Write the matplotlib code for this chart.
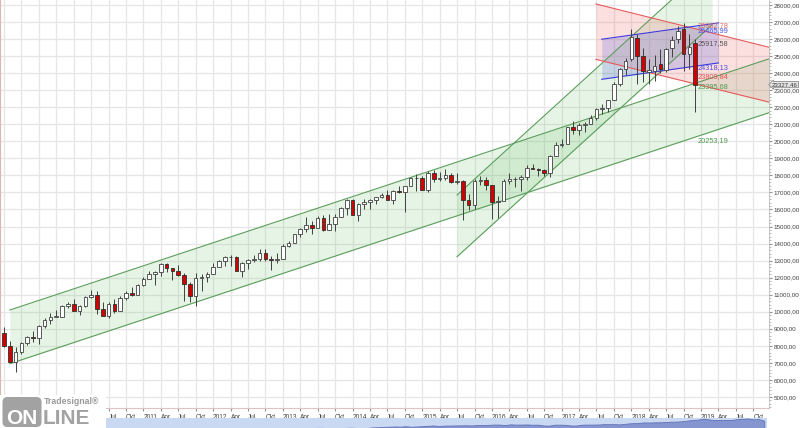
import numpy as np
import matplotlib.pyplot as plt
import matplotlib.transforms as mtransforms
from matplotlib.patches import FancyBboxPatch

plt.rcParams['font.family'] = ['Liberation Sans', 'DejaVu Sans']

# Monthly OHLC, Jan 2009 .. Dec 2018 (one row per year)
opens = [
    8772, 8001, 7063, 7609, 8168, 8500, 8447, 9172, 9496, 9712, 9713, 10345,
    10428, 10067, 10325, 10857, 11009, 10137, 9774, 10466, 10015, 10788, 11118, 11006,
    11578, 11892, 12226, 12320, 12811, 12570, 12414, 12143, 11614, 10913, 11955, 12046,
    12218, 12633, 12952, 13212, 13214, 12393, 12880, 13009, 13091, 13437, 13096, 13026,
    13104, 13861, 14054, 14579, 14840, 15116, 14910, 15500, 14810, 15130, 15546, 16086,
    16577, 15699, 16322, 16458, 16581, 16717, 16827, 16563, 17098, 17043, 17391, 17828,
    17823, 17165, 18133, 17776, 17841, 18011, 17620, 17690, 16528, 16285, 17664, 17720,
    17425, 16466, 16517, 17685, 17774, 17787, 17930, 18432, 18401, 18308, 18142, 19124,
    19763, 19864, 20812, 20663, 20941, 21009, 21350, 21891, 21948, 22405, 23377, 24272,
    24809, 26083, 25024, 24076, 24117, 24542, 24161, 25461, 25998, 26598, 25115, 25780,
]
highs = [
    9088, 8280, 7925, 8221, 8588, 8878, 9244, 9621, 9918, 10120, 10406, 10580,
    10730, 10410, 10908, 11258, 11205, 10595, 10580, 10720, 10948, 11245, 11451, 11625,
    12020, 12391, 12419, 12876, 12876, 12570, 12753, 12284, 11717, 12285, 12188, 12360,
    12841, 13055, 13290, 13338, 13280, 12898, 13107, 13331, 13653, 13662, 13290, 13430,
    13970, 14150, 14586, 14888, 15542, 15341, 15635, 15659, 15709, 15721, 16174, 16589,
    16588, 16398, 16588, 16632, 16735, 16978, 17151, 17153, 17350, 17395, 17894, 18103,
    17951, 18244, 18289, 18175, 18351, 18138, 18137, 17719, 16933, 17799, 17978, 17901,
    17425, 16795, 17790, 18168, 17935, 18016, 18622, 18668, 18450, 18399, 19226, 19988,
    20126, 20852, 21169, 21070, 21113, 21535, 21929, 22180, 22420, 23485, 24328, 24876,
    26617, 26307, 25450, 24858, 25086, 25402, 25462, 26167, 26770, 26951, 26278, 25980,
]
lows = [
    7909, 7050, 6470, 7490, 8075, 8221, 8088, 9070, 9253, 9677, 9679, 10236,
    10026, 9835, 10300, 10797, 9870, 9757, 9614, 9936, 10015, 10712, 10930, 11006,
    11535, 11892, 11555, 12093, 12311, 11862, 12093, 10605, 10597, 10362, 11231, 11735,
    12218, 12633, 12709, 12711, 12391, 12035, 12492, 12899, 12977, 12992, 12471, 12883,
    13104, 13784, 14054, 14397, 14685, 14551, 14910, 14760, 14777, 14720, 15546, 15703,
    15699, 15341, 16015, 16015, 16334, 16674, 16563, 16333, 16945, 15855, 17391, 17068,
    17136, 17037, 17585, 17664, 17736, 17547, 17466, 15370, 15942, 16013, 17432, 17128,
    15451, 15503, 16500, 17484, 17331, 17063, 17713, 18355, 17992, 17959, 17884, 19124,
    19678, 19832, 20413, 20380, 20554, 20996, 21279, 21600, 21709, 22405, 23242, 23921,
    24741, 23360, 23509, 23345, 23531, 23997, 24078, 24965, 25745, 24123, 24268, 21713,
]
closes = [
    8001, 7063, 7609, 8168, 8500, 8447, 9172, 9496, 9712, 9713, 10345, 10428,
    10067, 10325, 10857, 11009, 10137, 9774, 10466, 10015, 10788, 11118, 11006, 11578,
    11892, 12226, 12320, 12811, 12570, 12414, 12143, 11614, 10913, 11955, 12046, 12218,
    12633, 12952, 13212, 13214, 12393, 12880, 13009, 13091, 13437, 13096, 13026, 13104,
    13861, 14054, 14579, 14840, 15116, 14910, 15500, 14810, 15130, 15546, 16086, 16577,
    15699, 16322, 16458, 16581, 16717, 16827, 16563, 17098, 17043, 17391, 17828, 17823,
    17165, 18133, 17776, 17841, 18011, 17620, 17690, 16528, 16285, 17664, 17720, 17425,
    16466, 16517, 17685, 17774, 17787, 17930, 18432, 18401, 18308, 18142, 19124, 19763,
    19864, 20812, 20663, 20941, 21009, 21350, 21891, 21948, 22405, 23377, 24272, 24719,
    26149, 25029, 24103, 24163, 24416, 24271, 25415, 25965, 26458, 25116, 25538, 23327,
]
last_price = 23327.46

# Axis labels
years = [str(y) for y in range(2009, 2020)]
quarter_names = ['Apr', 'Jul', 'Okt']
first_labelled_tick = 18      # Jul 2010, earlier ones sit under the logo
y_ticks = list(range(5000, 29000, 1000))

# Drawn trend channels (month index, price at start / end)
chan_a_x = [1.0, 131.7]
chan_a_upper = [10100, 24840]
chan_a_lower = [6950, 21680]

chan_b_x = [78.0, 121.9]
chan_b_upper = [16850, 30460]
chan_b_lower = [13229, 26838]

chan_red_x = [101.9, 131.7]
chan_red_upper = [28060, 25520]
chan_red_lower = [24810, 22300]

chan_blue_x = [102.9, 123.0]
chan_blue_upper = [25990, 26950]
chan_blue_lower = [23640, 24600]

# Value tags next to the last bar
tag_texts = ['26802,78', '26465,99', '25917,58', '24318,13', '23809,84', '23395,68', '20253,19']
tag_prices = [26768, 26474, 25711, 24332, 23775, 23220, 20019]
tag_colors = ['#e06a6a', '#5050e0', '#555555', '#5050e0', '#e05050', '#4f9a4f', '#4f9a4f']

idx = np.arange(len(closes))
o = np.array(opens, float)
c = np.array(closes, float)
h = np.array(highs, float)
l = np.array(lows, float)

fig = plt.figure(figsize=(8, 4.28), dpi=100)
ax = fig.add_axes([0, 20 / 428, 769 / 800, 408 / 428])
ax.set_xlim(-0.69, 131.7)
ax.set_ylim(4350, 28293)

# grid + ticks
q_ticks = np.arange(0, 132, 3)
q_labels = []
for t in q_ticks:
    m = t % 12
    if t < first_labelled_tick:
        q_labels.append('')
    else:
        q_labels.append(years[t // 12] if m == 0 else quarter_names[m // 3 - 1])
ax.set_xticks(q_ticks)
ax.set_xticklabels(q_labels)
for lbl in ax.get_xticklabels():
    lbl.set_ha('left')
ax.set_yticks(y_ticks)
ax.set_yticklabels([f'{v},00' for v in y_ticks])
ax.set_yticks(np.arange(4400, 28300, 200), minor=True)
ax.yaxis.tick_right()
ax.tick_params(axis='x', length=2.5, pad=1.5, labelsize=4.7, colors='#909090', labelcolor='#404040')
ax.tick_params(axis='y', which='major', length=2, pad=1.2, labelsize=4.5, colors='#909090', labelcolor='#404040')
ax.tick_params(axis='y', which='minor', length=1.3, colors='#a0a0a0', width=0.5)
ax.grid(True, which='major', color='#e6e6e6', lw=0.9)
ax.set_axisbelow(True)
ax.spines['top'].set_visible(False)
ax.spines['left'].set_color('#dcb6ae')
ax.spines['left'].set_linewidth(1.5)
ax.spines['bottom'].set_color('#dcc4c4')
ax.spines['bottom'].set_linewidth(0.8)
ax.spines['right'].set_color('#b0b0b0')
ax.spines['right'].set_linewidth(0.5)


def channel(xs, up, lo, face, alpha, edge):
    ax.fill_between(xs, lo, up, color=face, alpha=alpha, lw=0, zorder=1)
    ax.plot(xs, up, color=edge, lw=0.8, zorder=2)
    ax.plot(xs, lo, color=edge, lw=0.8, zorder=2)


channel(chan_a_x, chan_a_upper, chan_a_lower, '#5cb85c', 0.15, '#5a9e5a')
channel(chan_b_x, chan_b_upper, chan_b_lower, '#5cb85c', 0.15, '#5a9e5a')
channel(chan_red_x, chan_red_upper, chan_red_lower, '#f06060', 0.2, '#e85a5a')
channel(chan_blue_x, chan_blue_upper, chan_blue_lower, '#5060e0', 0.22, '#3a3ae0')

# candles
up = c >= o
ax.vlines(idx, l, h, color='#404040', lw=0.7, zorder=3)
body_lo = np.minimum(o, c)
body_h = np.maximum(np.abs(c - o), 25)
ax.bar(idx[up], body_h[up], bottom=body_lo[up], width=0.62,
       color='white', edgecolor='#404040', lw=0.6, zorder=4)
ax.bar(idx[~up], body_h[~up], bottom=body_lo[~up], width=0.62,
       color='#d00000', edgecolor='#303030', lw=0.6, zorder=4)

for txt, p, col in zip(tag_texts, tag_prices, tag_colors):
    ax.text(119.35, p, txt, color=col, fontsize=5.3, ha='left', va='center', zorder=6)

trans = mtransforms.blended_transform_factory(ax.transAxes, ax.transData)
ax.text(1.004, last_price, f'{last_price:.2f}'.replace('.', ','), transform=trans,
        ha='left', va='center', fontsize=4.4, color='#303030', clip_on=False, zorder=10,
        bbox=dict(boxstyle='larrow,pad=0.1', fc='#e6e6e6', ec='#8a8a8a', lw=0.6))

# navigator strip
nav = fig.add_axes([105 / 800, 0, 662 / 800, 10 / 428])
nav.set_facecolor('#c9d9f2')
nav.fill_between(idx, c, 13000, color='#8595d0', lw=0.6, edgecolor='#6070b8')
nav.set_xlim(-0.5, 119.5)
nav.set_ylim(13000, 27100)
nav.set_xticks([])
nav.set_yticks([])
for s in nav.spines.values():
    s.set_visible(False)

# logo
logo = fig.add_axes([0, 0, 106 / 800, 33 / 428], zorder=5)
logo.set_xlim(0, 106)
logo.set_ylim(0, 33)
logo.set_facecolor('white')
logo.set_xticks([])
logo.set_yticks([])
for s in logo.spines.values():
    s.set_visible(False)
logo.add_patch(FancyBboxPatch((2.5, 1), 39, 30, boxstyle='round,pad=0,rounding_size=5',
                              fc='#a2a2a2', ec='none'))
logo.text(22, 10, 'ON', color='white', fontsize=15, fontweight='bold', ha='center', va='center')
logo.text(43, 10, 'LINE', color='#a2a2a2', fontsize=15, fontweight='bold', ha='left', va='center')
logo.text(44, 26, 'Tradesignal®', color='#9a9a9a', fontsize=6.3, fontweight='bold', ha='left', va='center')

fig.savefig('out.png', dpi=100)
